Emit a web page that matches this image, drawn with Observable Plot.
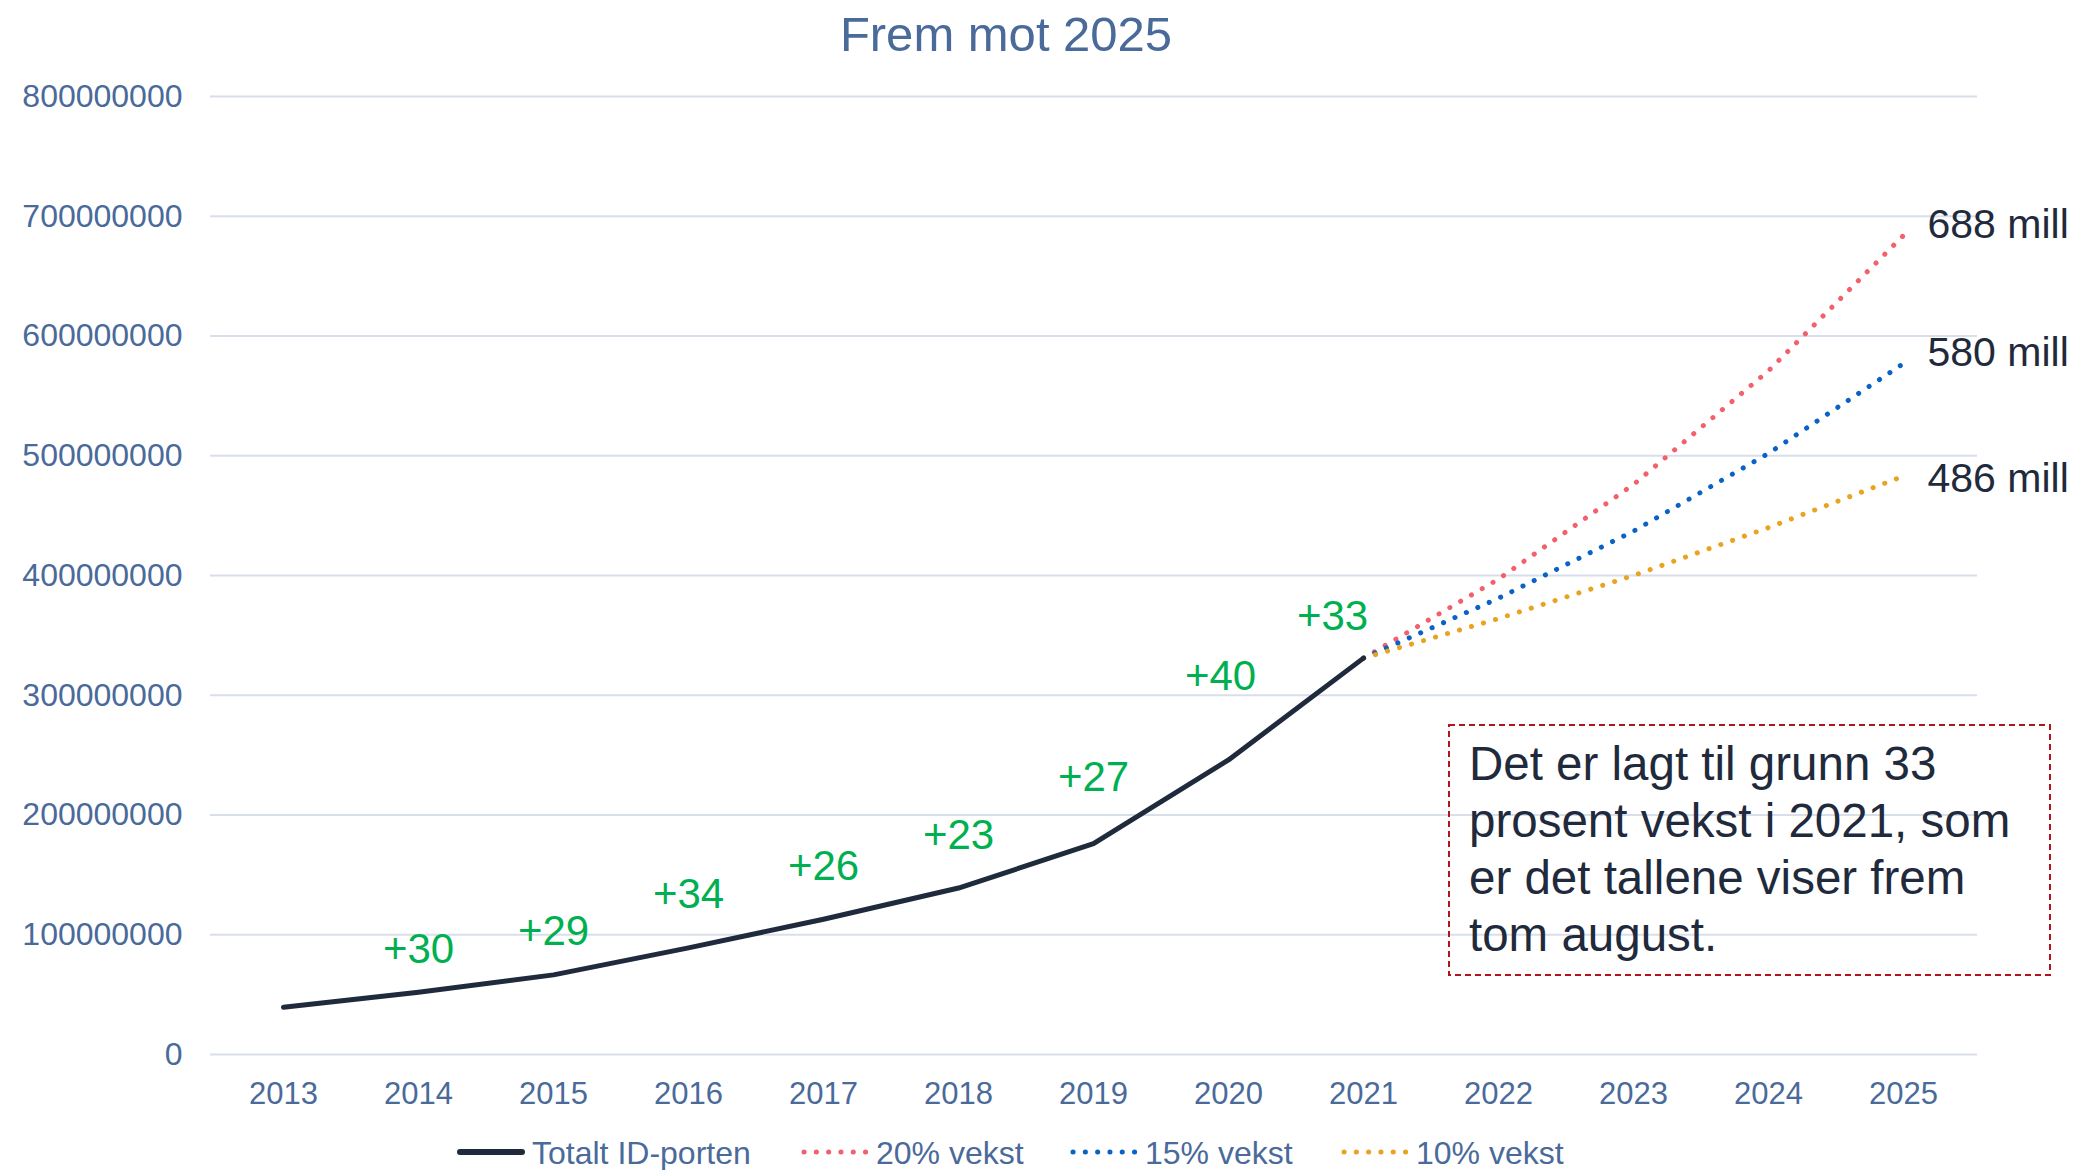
<!DOCTYPE html>
<html>
<head>
<meta charset="utf-8">
<script src="https://cdn.jsdelivr.net/npm/d3@7"></script>
<script src="https://cdn.jsdelivr.net/npm/@observablehq/plot@0.6"></script>
<style>
  html, body { margin: 0; padding: 0; background: #fff; overflow: hidden; }
  body { font-family: "Liberation Sans", Arial, sans-serif; }
  #wrap { position: relative; width: 2087px; height: 1170px; overflow: hidden; }
  #title { width: 2012px; height: 68px; line-height: 68px; text-align: center; font-size: 49px; color: #4a6a9a; }
  #legend { position: absolute; top: 1131px; left: 0; width: 2087px; height: 45px; }
  .item { position: absolute; top: 0; height: 45px; line-height: 45px; font-size: 32px; color: #4a6a9a; white-space: nowrap; }
  .item svg { vertical-align: middle; margin-right: 7px; position: relative; top: -4px; }
  #note { position: absolute; left: 1448px; top: 724px; width: 603px; height: 252px; }
  #note svg { position: absolute; left: 0; top: 0; }
  #note div { position: absolute; left: 21px; top: 11px; font-size: 47.5px; line-height: 57px; color: #1f2a3c; white-space: pre; }
</style>
</head>
<body>
<div id="wrap">
  <div id="title">Frem mot 2025</div>
  <div id="chart"></div>
  <div id="legend"></div>
  <div id="note"></div>
</div>
<script>
// ---- data ----
const years = [2013, 2014, 2015, 2016, 2017, 2018, 2019, 2020, 2021, 2022, 2023, 2024, 2025];
const actualYears = [2013, 2014, 2015, 2016, 2017, 2018, 2019, 2020, 2021];
const actualValues = [39500000, 52000000, 66500000, 89000000, 113000000, 139000000, 176000000, 246000000, 331000000];
const projYears = [2021, 2022, 2023, 2024, 2025];
const vekst20 = [331000000, 397000000, 476000000, 571000000, 684000000];
const vekst15 = [331000000, 381000000, 437000000, 502000000, 577000000];
const vekst10 = [331000000, 364000000, 400000000, 440000000, 483000000];
const growthYears = [2014, 2015, 2016, 2017, 2018, 2019, 2020, 2021];
const growthLabels = ["+30", "+29", "+34", "+26", "+23", "+27", "+40", "+33"];
const endLabels = ["688 mill", "580 mill", "486 mill"];
const yTicks = [0, 100000000, 200000000, 300000000, 400000000, 500000000, 600000000, 700000000, 800000000];
const seriesNames = ["Totalt ID-porten", "20% vekst", "15% vekst", "10% vekst"];
const noteText = "Det er lagt til grunn 33\nprosent vekst i 2021, som\ner det tallene viser frem\ntom august.";

// ---- tables built from the arrays ----
const actualRows = actualYears.map((y, i) => ({year: y, value: actualValues[i]}));
const rows20 = projYears.map((y, i) => ({year: y, value: vekst20[i]}));
const rows15 = projYears.map((y, i) => ({year: y, value: vekst15[i]}));
const rows10 = projYears.map((y, i) => ({year: y, value: vekst10[i]}));
const growthRows = growthYears.map((y, i) => ({year: y, value: actualValues[actualYears.indexOf(y)], label: growthLabels[i]}));
const endRows = [
  {year: 2025, value: vekst20[4], label: endLabels[0]},
  {year: 2025, value: vekst15[4], label: endLabels[1]},
  {year: 2025, value: vekst10[4], label: endLabels[2]}
];

const colors = {actual: "#1f2a3c", r: "#f2606b", b: "#0a63c4", y: "#eaa320", green: "#00b050", axis: "#4a6a9a", grid: "#d8dfeb"};
const dotted = {strokeWidth: 5, strokeDasharray: "0.1 12.4", strokeLinecap: "round"};
const greenText = {x: "year", y: "value", text: "label", fill: colors.green, fontSize: 42};
const endText = {x: "year", y: "value", text: "label", fill: colors.actual, fontSize: 41, textAnchor: "start", dx: 24};

const chart = Plot.plot({
  width: 2087,
  height: 1057,
  marginLeft: 210,
  marginRight: 110,
  marginTop: 28,
  marginBottom: 71,
  style: {fontFamily: '"Liberation Sans", Arial, sans-serif', color: colors.axis, background: "transparent", overflow: "visible"},
  x: {type: "point", domain: years, range: [278.5, 1908], padding: 0, label: null},
  y: {domain: [0, 800000000], label: null},
  marks: [
    Plot.ruleY(yTicks, {stroke: colors.grid, strokeWidth: 2}),
    Plot.axisY(yTicks, {tickSize: 0, tickPadding: 28, fontSize: 32, tickFormat: d => String(d), label: null}),
    Plot.axisX(years, {tickSize: 0, tickPadding: 27, fontSize: 31, tickFormat: d => String(d), label: null}),
    Plot.line(rows20, {x: "year", y: "value", stroke: colors.r, ...dotted}),
    Plot.line(rows15, {x: "year", y: "value", stroke: colors.b, ...dotted}),
    Plot.line(rows10, {x: "year", y: "value", stroke: colors.y, ...dotted}),
    Plot.line(actualRows, {x: "year", y: "value", stroke: colors.actual, strokeWidth: 5, strokeLinejoin: "round", strokeLinecap: "round"}),
    Plot.text(growthRows, {...greenText, filter: d => d.year <= 2015, dy: -43}),
    Plot.text(growthRows, {...greenText, filter: d => d.year >= 2016 && d.year <= 2018, dy: -53}),
    Plot.text(growthRows, {...greenText, filter: d => d.year === 2019, dy: -66}),
    Plot.text(growthRows, {...greenText, filter: d => d.year === 2020, dx: -8, dy: -83}),
    Plot.text(growthRows, {...greenText, filter: d => d.year === 2021, dx: -31, dy: -42}),
    Plot.text(endRows.slice(0, 2), {...endText, dy: -11}),
    Plot.text(endRows.slice(2), {...endText, dy: 3})
  ]
});
document.getElementById("chart").appendChild(chart);

// ---- legend ----
const legend = document.getElementById("legend");
const legendLeft = [457, 801, 1070, 1341];
const legendColors = [colors.actual, colors.r, colors.b, colors.y];
seriesNames.forEach((name, i) => {
  const item = document.createElement("div");
  item.className = "item";
  item.style.left = legendLeft[i] + "px";
  const svg = d3.create("svg").attr("width", 68).attr("height", 10);
  const ln = svg.append("line").attr("x1", 3).attr("x2", 65).attr("y1", 5).attr("y2", 5)
    .attr("stroke", legendColors[i]).attr("stroke-width", i === 0 ? 6 : 5).attr("stroke-linecap", "round");
  if (i > 0) ln.attr("stroke-dasharray", "0.1 12.2");
  item.appendChild(svg.node());
  item.appendChild(document.createTextNode(name));
  legend.appendChild(item);
});

// ---- note box ----
const note = document.getElementById("note");
const box = d3.create("svg").attr("width", 603).attr("height", 252);
box.append("rect").attr("x", 1).attr("y", 1).attr("width", 601).attr("height", 250)
  .attr("fill", "none").attr("stroke", "#b4121c").attr("stroke-width", 2).attr("stroke-dasharray", "6 4");
note.appendChild(box.node());
const txt = document.createElement("div");
txt.textContent = noteText;
note.appendChild(txt);
</script>
</body>
</html>
